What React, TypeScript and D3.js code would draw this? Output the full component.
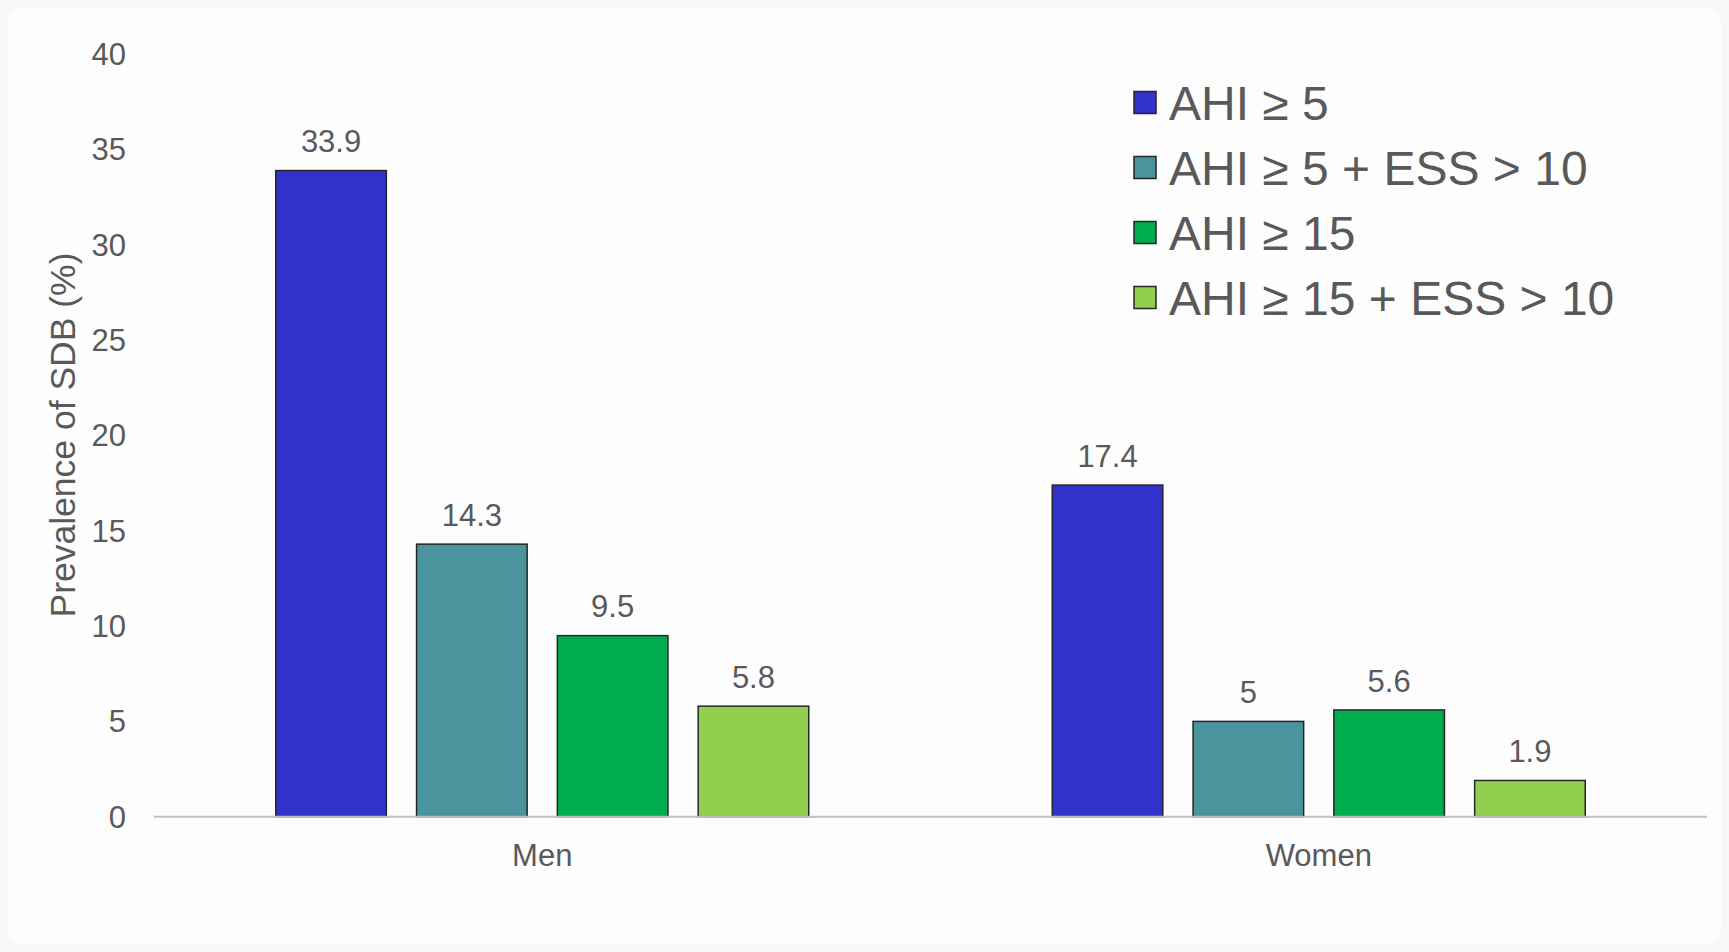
import React from "react";
import * as d3 from "d3";

// Prevalence of sleep-disordered breathing by sex and definition
const groups: string[] = ["Men", "Women"];
const seriesNames: string[] = [
  "AHI ≥ 5",
  "AHI ≥ 5 + ESS > 10",
  "AHI ≥ 15",
  "AHI ≥ 15 + ESS > 10",
];
const seriesColors: string[] = ["#3331CB", "#4A949E", "#00AC4E", "#92CF4F"];
const menValues: number[] = [33.9, 14.3, 9.5, 5.8];
const womenValues: number[] = [17.4, 5, 5.6, 1.9];
const yTicks: number[] = [0, 5, 10, 15, 20, 25, 30, 35, 40];
const yTitle = "Prevalence of SDB (%)";

const W = 1729;
const H = 952;
const FONT = "Arial, 'Liberation Sans', Helvetica, sans-serif";
const TEXT = "#595959";

export default function App() {
  const plotLeft = 154;
  const plotRight = 1707;
  const plotTop = 54.3;
  const plotBottom = 816.7;

  const y = d3.scaleLinear().domain([0, 40]).range([plotBottom, plotTop]);
  const x0 = d3
    .scaleBand<string>()
    .domain(groups)
    .range([plotLeft, plotRight])
    .paddingInner(0.3136)
    .paddingOuter(0.1568);
  const x1 = d3
    .scaleBand<string>()
    .domain(seriesNames)
    .range([0, x0.bandwidth()])
    .paddingInner(0.2145)
    .paddingOuter(0);

  const valuesByGroup: Record<string, number[]> = {
    Men: menValues,
    Women: womenValues,
  };

  const legendX = 1134;
  const legendY0 = 102.5;
  const legendStep = 65;
  const sq = 22;

  return (
    <svg
      width={W}
      height={H}
      viewBox={`0 0 ${W} ${H}`}
      style={{ position: "absolute", left: 0, top: 0, display: "block" }}
      fontFamily={FONT}
    >
      <rect x={0} y={0} width={W} height={H} fill="#f8f8f8" />
      <rect x={8} y={8} width={W - 16} height={H - 16} rx={14} fill="#fdfdfd" />

      {/* y tick labels */}
      {yTicks.map((t) => (
        <text
          key={t}
          x={126}
          y={y(t)}
          dy="0.35em"
          textAnchor="end"
          fontSize={31}
          fill={TEXT}
        >
          {t}
        </text>
      ))}

      {/* y axis title */}
      <text
        transform={`translate(63,435) rotate(-90)`}
        textAnchor="middle"
        dy="0.35em"
        fontSize={35.5}
        fill={TEXT}
      >
        {yTitle}
      </text>

      {/* bars and value labels */}
      {groups.map((g) => (
        <g key={g} transform={`translate(${x0(g)},0)`}>
          {seriesNames.map((s, i) => {
            const v = valuesByGroup[g][i];
            const bx = x1(s) as number;
            return (
              <g key={s}>
                <rect
                  x={bx}
                  y={y(v)}
                  width={x1.bandwidth()}
                  height={y(0) - y(v)}
                  fill={seriesColors[i]}
                  stroke="#262626"
                  strokeWidth={1.5}
                />
                <text
                  x={bx + x1.bandwidth() / 2}
                  y={y(v) - 18.4}
                  textAnchor="middle"
                  fontSize={31}
                  fill={TEXT}
                >
                  {v}
                </text>
              </g>
            );
          })}
        </g>
      ))}

      {/* baseline */}
      <line
        x1={plotLeft}
        x2={plotRight}
        y1={y(0)}
        y2={y(0)}
        stroke="#bfbfbf"
        strokeWidth={2}
      />

      {/* category labels */}
      {groups.map((g) => (
        <text
          key={g}
          x={(x0(g) as number) + x0.bandwidth() / 2}
          y={866}
          textAnchor="middle"
          fontSize={31}
          fill={TEXT}
        >
          {g}
        </text>
      ))}

      {/* legend */}
      {seriesNames.map((s, i) => {
        const cy = legendY0 + i * legendStep;
        return (
          <g key={s}>
            <rect
              x={legendX}
              y={cy - sq / 2}
              width={sq}
              height={sq}
              fill={seriesColors[i]}
              stroke="#262626"
              strokeWidth={1.5}
            />
            <text x={1169} y={cy + 17} fontSize={48} fill={TEXT}>
              {s}
            </text>
          </g>
        );
      })}
    </svg>
  );
}
